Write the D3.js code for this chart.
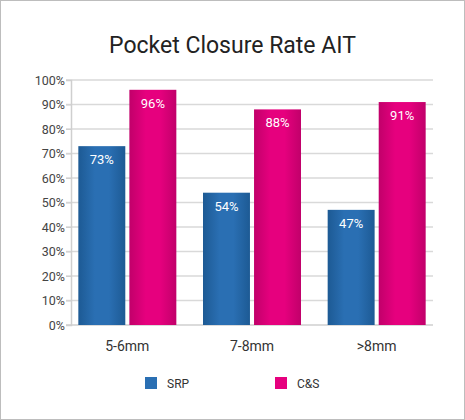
<!DOCTYPE html>
<html>
<head>
<meta charset="utf-8">
<script src="https://cdn.jsdelivr.net/npm/d3@7"></script>
<style>
  body { margin: 0; background: #fff; font-family: Roboto, sans-serif; }
</style>
</head>
<body>
<div id="chart"></div>
<script>
// data
const categories = ["5-6mm", "7-8mm", ">8mm"];
const seriesNames = ["SRP", "C&S"];
const srpValues = [73, 54, 47];
const csValues = [96, 88, 91];
const yTicks = [0, 10, 20, 30, 40, 50, 60, 70, 80, 90, 100];

const colors = { "SRP": ["#1d5a94", "#2a6fb3"], "C&S": ["#c1006a", "#e6007e"] };

const width = 465, height = 420;
const plotLeft = 71, plotRight = 445, plotTop = 80, plotBottom = 325;

const svg = d3.select("#chart").append("svg")
  .attr("width", width).attr("height", height);

svg.append("rect")
  .attr("x", 0.5).attr("y", 0.5)
  .attr("width", width - 1).attr("height", height - 1)
  .attr("fill", "#fff").attr("stroke", "#bdbdbd");

// gradients to mimic the shaded bars
const defs = svg.append("defs");
seriesNames.forEach((s, i) => {
  const g = defs.append("linearGradient").attr("id", "grad" + i)
    .attr("x1", "0%").attr("x2", "100%");
  g.append("stop").attr("offset", "0%").attr("stop-color", colors[s][0]);
  g.append("stop").attr("offset", "35%").attr("stop-color", colors[s][1]);
  g.append("stop").attr("offset", "65%").attr("stop-color", colors[s][1]);
  g.append("stop").attr("offset", "100%").attr("stop-color", colors[s][0]);
});

svg.append("text")
  .attr("x", width / 2).attr("y", 53)
  .attr("text-anchor", "middle")
  .style("font-size", "23px").style("fill", "#222")
  .text("Pocket Closure Rate AIT");

const y = d3.scaleLinear().domain([0, 100]).range([plotBottom, plotTop]);
const x0 = d3.scaleBand().domain(categories).range([plotLeft, plotRight]);
const x1 = d3.scaleBand().domain(seriesNames).range([0, 98]).paddingInner(0.08);

// grid
svg.append("g").selectAll("line")
  .data(yTicks.slice(1))
  .enter().append("line")
  .attr("x1", plotLeft - 5).attr("x2", plotRight - 12)
  .attr("y1", d => y(d)).attr("y2", d => y(d))
  .attr("stroke", "#d9d9d9").attr("stroke-width", 1.5);

const yAxis = svg.append("g")
  .attr("transform", "translate(" + plotLeft + ",0)")
  .call(d3.axisLeft(y).tickValues(yTicks).tickFormat(d => d + "%").tickSize(5));
yAxis.select(".domain").attr("stroke", "#cfcfcf").attr("stroke-width", 1.5);
yAxis.selectAll(".tick line").attr("stroke", "#cfcfcf");
yAxis.selectAll("text").style("font-size", "12.5px").style("fill", "#444")
  .style("font-family", "Roboto, sans-serif").attr("x", -6);

svg.append("line")
  .attr("x1", plotLeft - 5).attr("x2", plotRight - 12)
  .attr("y1", plotBottom).attr("y2", plotBottom)
  .attr("stroke", "#cfcfcf").attr("stroke-width", 1.5);

const rows = categories.map((c, i) => ({ cat: c, vals: [srpValues[i], csValues[i]] }));

const groups = svg.selectAll(".grp").data(rows).enter().append("g")
  .attr("transform", d => "translate(" + (x0(d.cat) + (x0.bandwidth() - 98) / 2 - 6) + ",0)");

groups.selectAll("rect")
  .data(d => d.vals.map((v, i) => ({ s: seriesNames[i], i: i, v: v })))
  .enter().append("rect")
  .attr("x", d => x1(d.s)).attr("width", x1.bandwidth())
  .attr("y", d => y(d.v)).attr("height", d => plotBottom - y(d.v))
  .attr("fill", d => "url(#grad" + d.i + ")");

groups.selectAll("text")
  .data(d => d.vals.map((v, i) => ({ s: seriesNames[i], v: v })))
  .enter().append("text")
  .attr("x", d => x1(d.s) + x1.bandwidth() / 2)
  .attr("y", d => y(d.v) + 18)
  .attr("text-anchor", "middle")
  .style("font-size", "13px").style("fill", "#fff")
  .text(d => d.v + "%");

svg.selectAll(".cat").data(categories).enter().append("text")
  .attr("x", d => x0(d) + x0.bandwidth() / 2 - 6)
  .attr("y", 351)
  .attr("text-anchor", "middle")
  .style("font-size", "14px").style("fill", "#333")
  .text(d => d);

// legend
const legendX = [145, 275];
seriesNames.forEach((s, i) => {
  svg.append("rect").attr("x", legendX[i]).attr("y", 377)
    .attr("width", 12).attr("height", 12).attr("fill", colors[s][1]);
  svg.append("text").attr("x", legendX[i] + 22).attr("y", 388)
    .style("font-size", "12px").style("fill", "#333").text(s);
});
</script>
</body>
</html>
